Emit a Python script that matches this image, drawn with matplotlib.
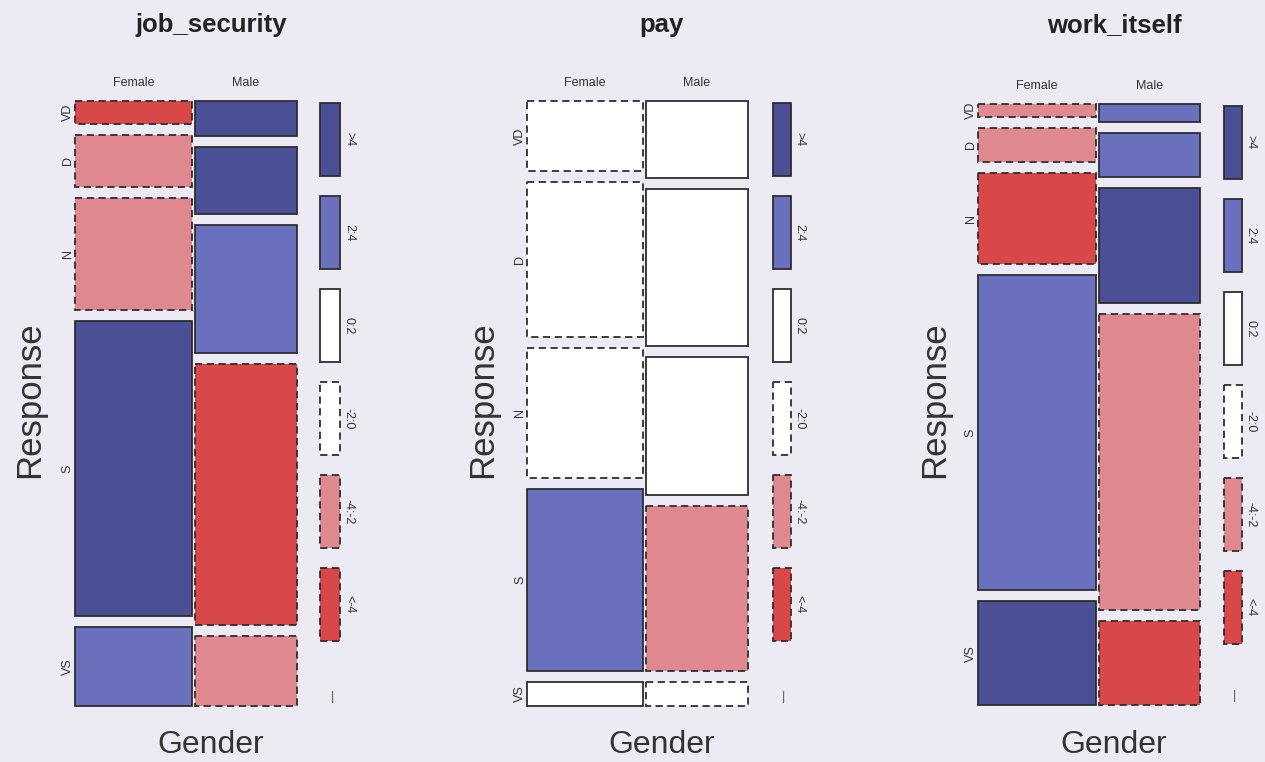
import matplotlib
matplotlib.use("Agg")
import matplotlib.pyplot as plt
from matplotlib.patches import Rectangle

plt.rcParams['font.family'] = ['Liberation Sans', 'DejaVu Sans']

# ---------------- data ----------------
titles = ["job_security", "pay", "work_itself"]
genders = ["Female", "Male"]
responses = ["VD", "D", "N", "S", "VS"]

# share of respondents by gender (column widths)
gender_share_job = [0.532, 0.468]
gender_share_pay = [0.532, 0.468]
gender_share_work = [0.537, 0.463]

# conditional response proportions (%) within each gender
job_female = [4.1, 9.2, 20.1, 52.6, 14.0]
job_male = [6.3, 11.8, 22.9, 46.6, 12.4]
pay_female = [12.5, 27.6, 23.1, 32.5, 4.3]
pay_male = [13.8, 27.8, 24.6, 29.4, 4.3]
work_female = [2.3, 6.1, 16.3, 56.6, 18.6]
work_male = [3.3, 7.8, 20.6, 53.3, 15.0]

# Pearson residuals (shading)
job_res_female = [-4.5, -3.0, -3.0, 5.0, 3.0]
job_res_male = [5.0, 5.0, 3.0, -5.0, -3.0]
pay_res_female = [-1.0, -1.0, -1.0, 3.0, 1.0]
pay_res_male = [1.0, 1.0, 1.0, -3.0, -1.0]
work_res_female = [-3.0, -3.0, -5.0, 3.0, 5.0]
work_res_male = [3.0, 3.0, 5.0, -3.0, -5.0]

legend_labels = [">4", "2:4", "0:2", "-2:0", "-4:-2", "<-4"]
legend_levels = [5.0, 3.0, 1.0, -1.0, -3.0, -5.0]

panels = [
    (gender_share_job, [job_female, job_male], [job_res_female, job_res_male]),
    (gender_share_pay, [pay_female, pay_male], [pay_res_female, pay_res_male]),
    (gender_share_work, [work_female, work_male], [work_res_female, work_res_male]),
]

# ---------------- style ----------------
BG = "#ecebf3"
DARK_BLUE = "#4b4f95"
MID_BLUE = "#6a6fbe"
LIGHT_RED = "#e08890"
DARK_RED = "#d84848"
EDGE = "#2e2e2e"


def shade(r):
    if r > 4:
        return DARK_BLUE, "solid"
    if r > 2:
        return MID_BLUE, "solid"
    if r >= 0:
        return "white", "solid"
    if r > -2:
        return "white", "dashed"
    if r > -4:
        return LIGHT_RED, "dashed"
    return DARK_RED, "dashed"


W, H = 1265, 762
fig = plt.figure(figsize=(W / 100, H / 100), dpi=100, facecolor=BG)


def fx(px):
    return px / W


def fy(py):
    return 1 - py / H


# pixel layout of each panel: mosaic left, right, top, bottom; legend left, right
layout = [
    dict(ml=75, mr=297, mt=101, mb=706, ll=320, lr=340, cx=211, rx=30),
    dict(ml=527, mr=748, mt=101, mb=706, ll=773, lr=791, cx=662, rx=483),
    dict(ml=978, mr=1200, mt=104, mb=705, ll=1224, lr=1242, cx=1114, rx=935),
]

DASH = (0, (4, 2.5))

for title, (share, props, resid), L in zip(titles, panels, layout):
    ax = fig.add_axes([fx(L['ml']), fy(L['mb']), fx(L['mr'] - L['ml']),
                       (L['mb'] - L['mt']) / H])
    ax.set_xlim(0, 1)
    ax.set_ylim(1, 0)
    ax.axis('off')
    gap_x = 3 / (L['mr'] - L['ml'])
    gap_y = 11 / (L['mb'] - L['mt'])
    avail_x = 1 - gap_x * (len(genders) - 1)
    avail_y = 1 - gap_y * (len(responses) - 1)
    x0 = 0.0
    for gi, g in enumerate(genders):
        w = share[gi] * avail_x
        tot = sum(props[gi])
        y0 = 0.0
        for ri, r in enumerate(responses):
            h = props[gi][ri] / tot * avail_y
            col, ls = shade(resid[gi][ri])
            ax.add_patch(Rectangle((x0, y0), w, h, facecolor=col,
                                   edgecolor=EDGE, linewidth=1.3,
                                   linestyle='solid' if ls == 'solid' else DASH,
                                   clip_on=False))
            if gi == 0:
                ax.text(-0.032, y0 + h / 2, r, rotation=90, ha='center',
                        va='center', fontsize=9, color='#333333')
            y0 += h + gap_y
        ax.text(x0 + w / 2, -0.03, g, ha='center', va='center', fontsize=9,
                color='#333333')
        x0 += w + gap_x

    # legend
    lax = fig.add_axes([fx(L['ll']), fy(L['mb']), fx(L['lr'] - L['ll']),
                        (L['mb'] - L['mt']) / H])
    lax.set_xlim(0, 1)
    lax.set_ylim(1, 0)
    lax.axis('off')
    step = 93 / (L['mb'] - L['mt'])
    bh = 73 / (L['mb'] - L['mt'])
    for i, (lab, lev) in enumerate(zip(legend_labels, legend_levels)):
        col, ls = shade(lev)
        top = 0.003 + i * step
        lax.add_patch(Rectangle((0, top), 1, bh, facecolor=col, edgecolor=EDGE,
                                linewidth=1.3,
                                linestyle='solid' if ls == 'solid' else DASH,
                                clip_on=False))
        lax.text(1.45, top + bh / 2, lab, rotation=-90, ha='center',
                 va='center', fontsize=9, color='#333333')
    lax.text(0.6, 0.985, "|", ha='center', va='center', fontsize=9,
             color='#555555')

    # titles and axis labels
    fig.text(fx(L['cx']), fy(25), title, ha='center', va='center',
             fontsize=18.5, fontweight='bold', color='#222222')
    fig.text(fx(L['cx']), fy(745), "Gender", ha='center', va='center',
             fontsize=23, color='#333333')
    fig.text(fx(L['rx']), fy(400), "Response", ha='center', va='center',
             rotation=90, fontsize=25, color='#333333')

fig.savefig("out.png", dpi=100, facecolor=BG)
